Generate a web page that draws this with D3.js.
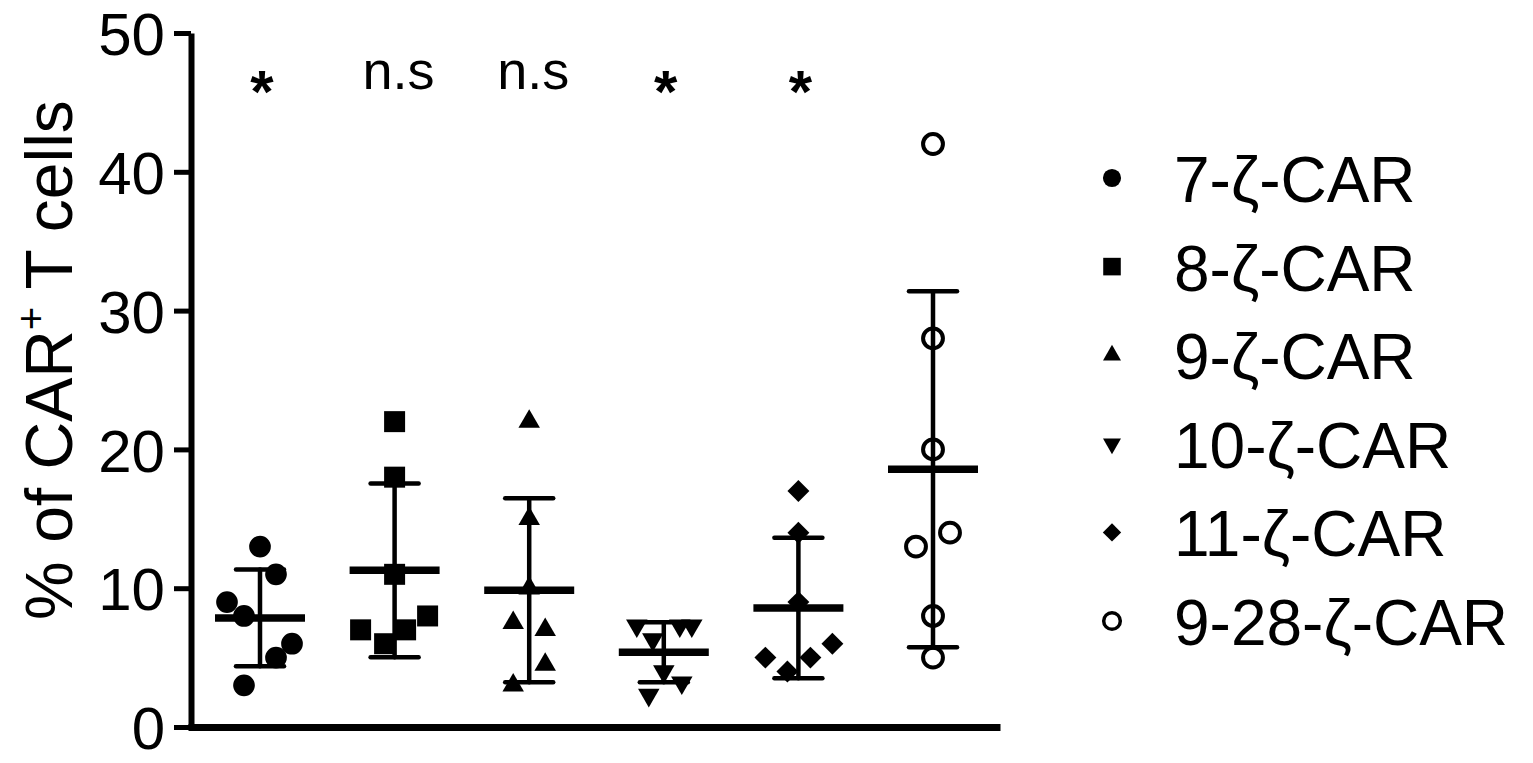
<!DOCTYPE html>
<html>
<head>
<meta charset="utf-8">
<script src="https://cdn.jsdelivr.net/npm/d3@7"></script>
<style>
  html, body { margin: 0; padding: 0; background: #fff; }
  svg { display: block; }
  text { font-family: "Liberation Sans", Arial, Helvetica, sans-serif; fill: #000; }
</style>
</head>
<body>
<svg id="chart" width="1533" height="763"></svg>
<script>
// ---- data ----
const categories = ["7-ζ-CAR", "8-ζ-CAR", "9-ζ-CAR", "10-ζ-CAR", "11-ζ-CAR", "9-28-ζ-CAR"];
const car7   = [13, 11, 9, 8, 6, 5, 3];
const car8   = [22, 18, 11, 7, 7, 8, 6];
const car9   = [22, 15, 10, 7.5, 7, 4.5, 3];
const car10  = [7.3, 6.3, 7.3, 7.3, 3.2, 2.3, 4.0];
const car11  = [17, 14, 9, 5, 5, 6, 4];
const car928 = [42, 28, 20, 14, 13, 8, 5];
const sigLabels = ["*", "n.s", "n.s", "*", "*", ""];
const yTicks = [0, 10, 20, 30, 40, 50];
const yTitle = "% of CAR";

// layout: horizontal scatter offsets (px) so overlapping points stay visible
const jitter = [
  [0, 16, -33, -16, 32, 16, -16],
  [0, 0, 0, -34, 11, 33, -10],
  [0, 0, 0, -16, 16, 16, -16],
  [-27, -11, 16, 28, 18, -15, 0],
  [0, 0, 0, -33, 12, 34, -11],
  [0, 0, 0, 17, -17, 0, 0]
];

const seriesValues = [car7, car8, car9, car10, car11, car928];

// ---- scales ----
const svg = d3.select("#chart");
const x = d3.scalePoint().domain(categories).range([260, 933]);
const y = d3.scaleLinear().domain([0, 50]).range([727, 33]);

// symbols
const symbolDefs = [
  { type: d3.symbolCircle, size: 370, rot: 0, fill: "#000", stroke: "none" },
  { type: d3.symbolSquare, size: 441, rot: 0, fill: "#000", stroke: "none" },
  { type: d3.symbolTriangle, size: 200, rot: 0, fill: "#000", stroke: "none" },
  { type: d3.symbolTriangle, size: 200, rot: 180, fill: "#000", stroke: "none" },
  { type: d3.symbolSquare, size: 240, rot: 45, fill: "#000", stroke: "none" },
  { type: d3.symbolCircle, size: 310, rot: 0, fill: "none", stroke: "#000" }
];

// ---- points ----
const pts = svg.append("g");
seriesValues.forEach((vals, gi) => {
  const sd = symbolDefs[gi];
  const path = d3.symbol().type(sd.type).size(sd.size)();
  pts.selectAll(null).data(vals).enter().append("path")
    .attr("d", path)
    .attr("transform", (v, i) => `translate(${x(categories[gi]) + jitter[gi][i]},${y(v)}) rotate(${sd.rot})`)
    .attr("fill", sd.fill)
    .attr("stroke", sd.stroke)
    .attr("stroke-width", 4);
});

// ---- error bars (mean ± SD) ----
const eb = svg.append("g").attr("stroke", "#000").attr("stroke-linecap", "round");
seriesValues.forEach((vals, gi) => {
  const cx = x(categories[gi]);
  const m = d3.mean(vals), s = d3.deviation(vals);
  eb.append("line").attr("x1", cx).attr("x2", cx).attr("y1", y(m + s)).attr("y2", y(m - s)).attr("stroke-width", 4.5);
  [m + s, m - s].forEach(v => {
    eb.append("line").attr("x1", cx - 24).attr("x2", cx + 24).attr("y1", y(v)).attr("y2", y(v)).attr("stroke-width", 4.5);
  });
  eb.append("line").attr("x1", cx - 45).attr("x2", cx + 45).attr("y1", y(m)).attr("y2", y(m))
    .attr("stroke-width", 7.5).attr("stroke-linecap", "butt");
});

// ---- axes ----
const yAxis = svg.append("g").attr("transform", "translate(191,0)")
  .call(d3.axisLeft(y).tickValues(yTicks).tickSize(17).tickSizeOuter(0).tickPadding(9));
yAxis.select(".domain").attr("stroke-width", 6).attr("stroke", "#000");
yAxis.selectAll(".tick line").attr("stroke-width", 5).attr("stroke", "#000");
yAxis.selectAll(".tick text").attr("font-size", 60).attr("fill", "#000")
  .attr("font-family", "Liberation Sans, Arial, sans-serif").attr("dy", "0.36em");

const xLine = d3.scaleLinear().domain([0, 1]).range([188, 1000]);
const xAxis = svg.append("g").attr("transform", "translate(0,727)")
  .call(d3.axisBottom(xLine).tickValues([]).tickSizeOuter(0));
xAxis.select(".domain").attr("stroke-width", 7).attr("stroke", "#000");

// ---- y title ----
const yt = svg.append("text")
  .attr("transform", "translate(72,360) rotate(-90)")
  .attr("text-anchor", "middle")
  .attr("font-size", 66);
yt.append("tspan").text(yTitle);
yt.append("tspan").text("+").attr("font-size", 40).attr("dy", "-0.68em");
yt.append("tspan").text(" T cells").attr("dy", "0.41em");

// ---- significance labels ----
svg.append("g").selectAll("text").data(sigLabels).enter().append("text")
  .attr("x", (d, i) => x(categories[i]) + (d === "*" ? 2 : 4))
  .attr("y", d => d === "*" ? 112 : 89)
  .attr("text-anchor", "middle")
  .attr("font-family", "Open Sans, Liberation Sans, sans-serif")
  .attr("font-weight", d => d === "*" ? 600 : 400)
  .attr("font-size", d => d === "*" ? 60 : 54)
  .text(d => d);

// ---- legend ----
const lg = svg.append("g");
categories.forEach((c, i) => {
  const base = 202 + i * 88.6;
  const sd = symbolDefs[i];
  lg.append("path")
    .attr("d", d3.symbol().type(sd.type).size(sd.size * 0.7)())
    .attr("transform", `translate(1112,${base - 24}) rotate(${sd.rot})`)
    .attr("fill", sd.fill).attr("stroke", sd.stroke).attr("stroke-width", 3.5);
  lg.append("text").attr("x", 1174).attr("y", base).attr("font-size", 64).text(c);
});
</script>
</body>
</html>
